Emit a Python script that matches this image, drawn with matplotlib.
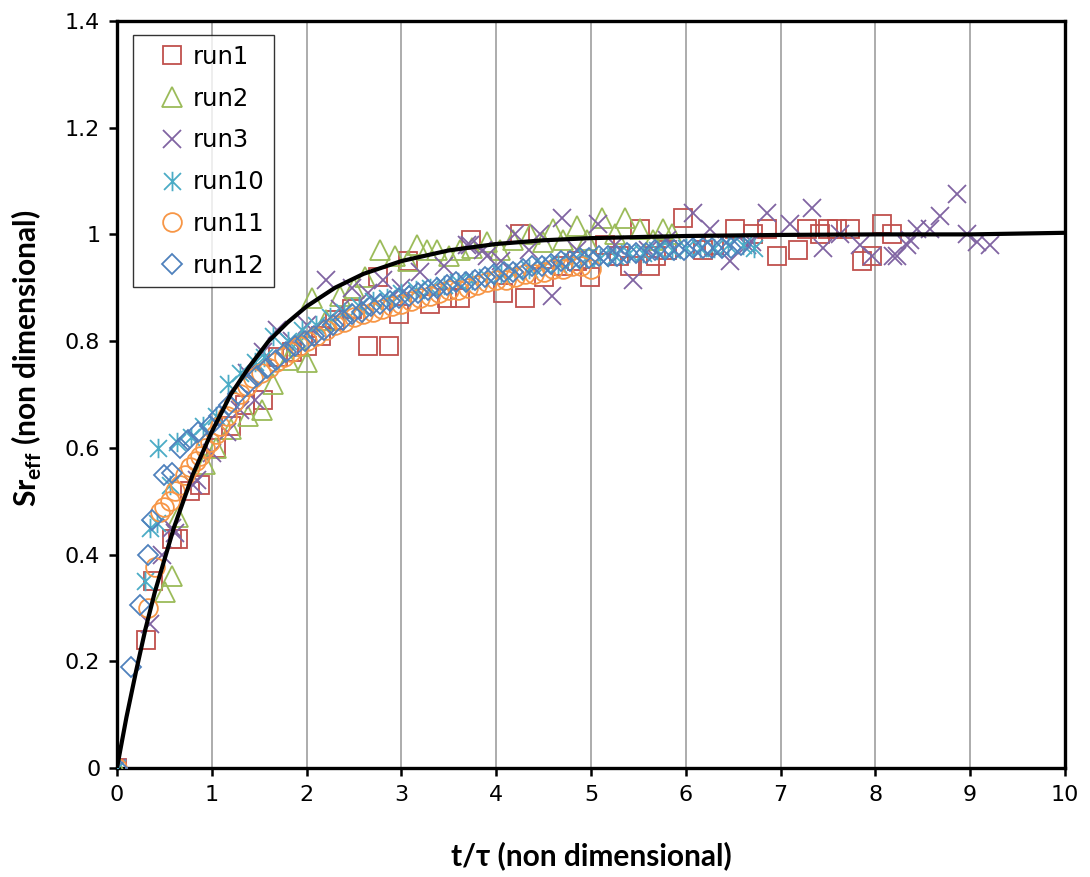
import matplotlib
matplotlib.use("Agg")
import matplotlib.pyplot as plt
from matplotlib.path import Path

plt.rcParams['font.family'] = ['DejaVu Sans']
plt.rcParams['mathtext.fontset'] = 'custom'
plt.rcParams['mathtext.rm'] = 'Lato:bold'

# --- data ---
t_run1 = [0, 0.31, 0.38, 0.58, 0.64, 0.77, 0.88, 1.05, 1.2, 1.35, 1.54, 1.7, 1.85, 2.0, 2.15,
          2.3, 2.48, 2.65, 2.75, 2.87, 2.97, 3.07, 3.3, 3.48, 3.62, 3.74, 4.07, 4.25, 4.3, 4.5,
          4.7, 4.85, 4.99, 5.15, 5.3, 5.41, 5.52, 5.62, 5.69, 5.8, 5.97, 6.18, 6.3, 6.52, 6.71,
          6.86, 6.96, 7.18, 7.28, 7.42, 7.5, 7.6, 7.73, 7.86, 7.96, 8.07, 8.18]
sr_run1 = [0, 0.24, 0.35, 0.43, 0.43, 0.52, 0.53, 0.6, 0.64, 0.68, 0.69, 0.77, 0.78, 0.79, 0.81,
           0.84, 0.86, 0.79, 0.92, 0.79, 0.85, 0.95, 0.87, 0.88, 0.88, 0.99, 0.89, 1.0, 0.88, 0.92,
           0.94, 0.95, 0.92, 0.98, 0.96, 0.94, 1.01, 0.94, 0.96, 0.97, 1.03, 0.97, 0.98, 1.01, 1.0,
           1.01, 0.96, 0.97, 1.01, 1.0, 1.01, 1.01, 1.01, 0.95, 0.96, 1.02, 1.0]

t_run2 = [0, 0.51, 0.58, 0.64, 0.93, 1.05, 1.2, 1.38, 1.53, 1.65, 1.8, 1.92, 2.01, 2.06, 2.2,
          2.35, 2.5, 2.62, 2.77, 2.93, 3.07, 3.16, 3.27, 3.38, 3.5, 3.62, 3.75, 3.9, 4.04, 4.18,
          4.36, 4.49, 4.6, 4.7, 4.85, 4.96, 5.12, 5.25, 5.36, 5.52, 5.65, 5.76, 5.86]
sr_run2 = [0, 0.33, 0.36, 0.47, 0.57, 0.60, 0.635, 0.66, 0.67, 0.72, 0.765, 0.79, 0.76, 0.88, 0.84,
           0.885, 0.90, 0.92, 0.97, 0.96, 0.95, 0.98, 0.97, 0.97, 0.96, 0.97, 0.975, 0.985, 0.97, 0.99,
           1.0, 0.985, 1.01, 0.99, 1.015, 0.99, 1.03, 1.0, 1.03, 1.01, 0.99, 1.01, 1.0]

t_run3 = [0, 0.35, 0.47, 0.58, 0.61, 0.8, 0.84, 1.0, 1.16, 1.3, 1.37, 1.46, 1.54, 1.69, 1.85,
          2.0, 2.21, 2.35, 2.48, 2.65, 2.81, 3.0, 3.2, 3.45, 3.69, 3.72, 3.86, 3.9, 4.05, 4.2,
          4.35, 4.46, 4.59, 4.69, 4.85, 5.07, 5.25, 5.44, 5.6, 5.8, 6.08, 6.26, 6.47, 6.65, 6.7,
          6.86, 7.1, 7.33, 7.45, 7.63, 7.84, 7.97, 8.19, 8.23, 8.33, 8.37, 8.44, 8.58, 8.68, 8.86,
          8.97, 9.07, 9.21]
sr_run3 = [0, 0.27, 0.40, 0.45, 0.44, 0.53, 0.54, 0.59, 0.63, 0.67, 0.74, 0.69, 0.78, 0.82, 0.80,
           0.83, 0.915, 0.86, 0.90, 0.89, 0.915, 0.90, 0.93, 0.94, 0.98, 0.98, 0.97, 0.96, 0.95, 1.0,
           0.97, 1.0, 0.885, 1.03, 0.97, 1.02, 0.98, 0.915, 0.97, 0.99, 1.04, 1.01, 0.95, 0.98, 0.985,
           1.04, 1.02, 1.05, 0.975, 1.0, 0.98, 0.96, 0.96, 0.96, 0.98, 0.99, 1.01, 1.01, 1.035, 1.075,
           1.0, 0.985, 0.98]

t_run10 = [0, 0.3, 0.35, 0.42, 0.43, 0.56, 0.63, 0.78, 0.91, 1.04, 1.17, 1.3, 1.46, 1.55, 1.65,
           1.8, 1.95, 2.1, 2.25, 2.4, 2.55, 2.7, 2.85, 3.0, 3.15, 3.3, 3.45, 3.6, 3.75, 3.9,
           4.05, 4.2, 4.35, 4.5, 4.65, 4.8, 4.95, 5.1, 5.25, 5.4, 5.55, 5.7, 5.85, 6.0, 6.15,
           6.3, 6.45, 6.6, 6.72]
sr_run10 = [0, 0.35, 0.45, 0.46, 0.60, 0.53, 0.61, 0.62, 0.64, 0.66, 0.72, 0.74, 0.76, 0.77, 0.81,
            0.80, 0.82, 0.83, 0.845, 0.855, 0.865, 0.875, 0.88, 0.89, 0.895, 0.90, 0.905, 0.91, 0.915, 0.92,
            0.925, 0.93, 0.935, 0.94, 0.945, 0.95, 0.955, 0.955, 0.96, 0.965, 0.965, 0.97, 0.97, 0.975, 0.975,
            0.975, 0.98, 0.98, 0.975]

t_run11 = [0, 0.33, 0.4, 0.45, 0.5, 0.56, 0.61, 0.66, 0.72, 0.77, 0.83, 0.88, 0.93, 0.98, 1.04,
           1.09, 1.16, 1.23, 1.3, 1.37, 1.44, 1.52, 1.6, 1.68, 1.76, 1.84, 1.92, 2.0, 2.1, 2.2,
           2.3, 2.4, 2.5, 2.6, 2.7, 2.8, 2.9, 3.0, 3.1, 3.2, 3.3, 3.4, 3.5, 3.6, 3.7,
           3.8, 3.9, 4.0, 4.1, 4.2, 4.3, 4.4, 4.5, 4.6, 4.7, 4.8, 4.9, 5.0]
sr_run11 = [0, 0.30, 0.377, 0.48, 0.49, 0.50, 0.52, 0.53, 0.55, 0.565, 0.575, 0.585, 0.60, 0.61, 0.625,
            0.64, 0.66, 0.685, 0.70, 0.715, 0.73, 0.74, 0.75, 0.76, 0.77, 0.78, 0.79, 0.80, 0.81, 0.82,
            0.83, 0.835, 0.845, 0.85, 0.855, 0.86, 0.865, 0.87, 0.875, 0.88, 0.885, 0.89, 0.895, 0.895, 0.90,
            0.905, 0.91, 0.915, 0.915, 0.92, 0.925, 0.925, 0.93, 0.935, 0.935, 0.94, 0.94, 0.935]

t_run12 = [0, 0.15, 0.24, 0.33, 0.37, 0.5, 0.58, 0.66, 0.75, 0.86, 0.98, 1.08, 1.18, 1.28, 1.38,
           1.48, 1.58, 1.68, 1.78, 1.88, 1.98, 2.08, 2.18, 2.28, 2.38, 2.48, 2.58, 2.68, 2.78, 2.88,
           2.98, 3.08, 3.18, 3.28, 3.38, 3.48, 3.58, 3.68, 3.78, 3.88, 3.98, 4.08, 4.18, 4.28, 4.38,
           4.48, 4.58, 4.68, 4.78, 4.88, 4.98, 5.08, 5.18, 5.28, 5.38, 5.48, 5.58, 5.68, 5.78, 5.88,
           5.98, 6.08, 6.18, 6.28, 6.38, 6.48, 6.58]
sr_run12 = [0, 0.19, 0.305, 0.40, 0.465, 0.55, 0.553, 0.60, 0.615, 0.63, 0.64, 0.66, 0.68, 0.70, 0.72,
            0.735, 0.75, 0.765, 0.78, 0.79, 0.80, 0.81, 0.82, 0.83, 0.84, 0.85, 0.855, 0.865, 0.87, 0.875,
            0.88, 0.885, 0.89, 0.895, 0.90, 0.905, 0.91, 0.91, 0.915, 0.92, 0.925, 0.93, 0.93, 0.935, 0.94,
            0.94, 0.945, 0.95, 0.95, 0.955, 0.955, 0.96, 0.96, 0.96, 0.965, 0.965, 0.965, 0.97, 0.97, 0.97,
            0.97, 0.975, 0.975, 0.975, 0.975, 0.975, 0.98]

# model curve, read point by point
t_model = [0, 0.1, 0.2, 0.3, 0.4, 0.5, 0.6, 0.7, 0.8, 0.9, 1.0, 1.2, 1.4, 1.6, 1.8, 2.0, 2.3,
           2.6, 3.0, 3.5, 4.0, 4.5, 5.0, 6.0, 7.0, 8.0, 9.0, 10.0]
sr_model = [0, 0.095, 0.18, 0.26, 0.33, 0.39, 0.45, 0.50, 0.55, 0.59, 0.63, 0.70, 0.753, 0.80, 0.835,
            0.865, 0.90, 0.926, 0.95, 0.97, 0.982, 0.989, 0.993, 0.997, 0.999, 1.0, 1.0, 1.003]

x_ticks = list(range(0, 11))
y_ticks = [0, 0.2, 0.4, 0.6, 0.8, 1.0, 1.2, 1.4]
y_tick_labels = ['0', '0.2', '0.4', '0.6', '0.8', '1', '1.2', '1.4']

# Excel style "star": an x with a vertical bar
star = Path([(-1, -1), (1, 1), (-1, 1), (1, -1), (0, -1.15), (0, 1.15)],
            [Path.MOVETO, Path.LINETO] * 3)

series = [
    ('run1', t_run1, sr_run1, 's', '#C0504D', 13),
    ('run2', t_run2, sr_run2, '^', '#9BBB59', 14),
    ('run3', t_run3, sr_run3, 'x', '#8064A2', 13),
    ('run10', t_run10, sr_run10, star, '#4BACC6', 14),
    ('run11', t_run11, sr_run11, 'o', '#F79646', 13.5),
    ('run12', t_run12, sr_run12, 'D', '#4F81BD', 10),
]

fig = plt.figure(figsize=(10.9, 8.77), dpi=100)
ax = fig.add_axes([0.1073, 0.1243, 0.8697, 0.8518])

for label, t, sr, marker, color, ms in series:
    ax.plot(t, sr, linestyle='none', marker=marker, markersize=ms,
            markerfacecolor='none', markeredgecolor=color, markeredgewidth=1.3,
            label=label, zorder=3)

ax.plot(t_model, sr_model, color='black', linewidth=3, zorder=4)

ax.set_xlim(0, 10)
ax.set_ylim(0, 1.4)
ax.set_xticks(x_ticks)
ax.set_yticks(y_ticks)
ax.set_yticklabels(y_tick_labels)
ax.grid(axis='x', color='#A6A6A6', linewidth=1.3)
ax.set_axisbelow(True)
ax.tick_params(direction='out', length=6, width=1.8, labelsize=16, pad=6, colors='black')
for s in ax.spines.values():
    s.set_linewidth(2.4)
    s.set_color('black')

ax.set_xlabel('t/τ (non dimensional)', fontsize=21.5, fontweight='bold', family=['Lato', 'DejaVu Sans'])
ax.set_ylabel(r'Sr$_{\mathrm{eff}}$ (non dimensional)', fontsize=21.5, fontweight='bold',
              family=['Lato', 'DejaVu Sans'])
ax.xaxis.set_label_coords(0.5, -0.098)
ax.yaxis.set_label_coords(-0.077, 0.548)

leg = ax.legend(loc='upper left', bbox_to_anchor=(0.017, 0.981), borderaxespad=0,
                fontsize=17.5, frameon=True, fancybox=False, handlelength=2.4,
                handletextpad=-0.35, labelspacing=0.73, borderpad=0.4)
leg.get_frame().set_edgecolor('black')
leg.get_frame().set_linewidth(1.0)

fig.savefig('out.png', dpi=100)
